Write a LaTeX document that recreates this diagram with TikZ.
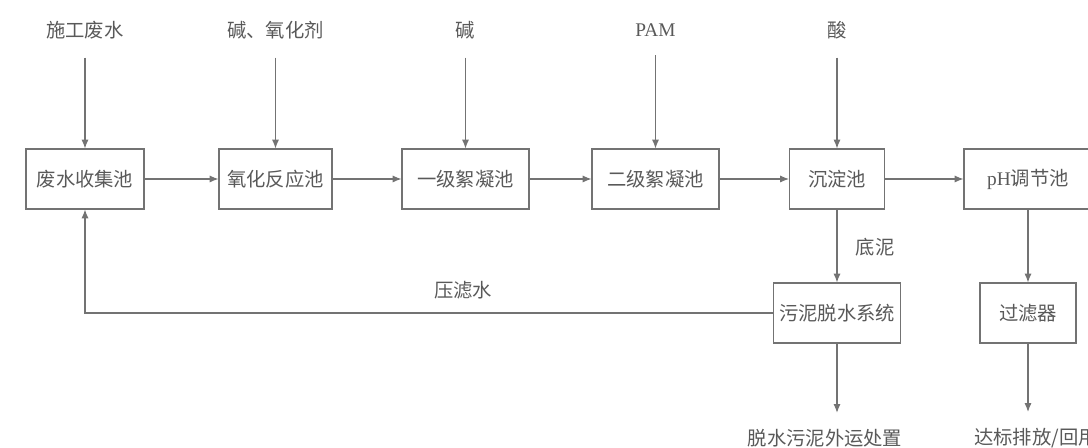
\documentclass[tikz,border=0pt]{standalone}
\usepackage{fontspec}
\setmainfont{Liberation Serif}
\newfontfamily\cjk{Noto Sans CJK SC}
\usetikzlibrary{arrows.meta}
\begin{document}
\begin{tikzpicture}[font=\cjk\fontsize{11}{13}\selectfont, text=black!65,
	pool/.style={draw=black!55, line width=0.6pt, minimum width=2.54cm, minimum height=1.2cm},
	flow/.style={draw=black!55, line width=0.6pt, -{Latex[length=5pt,width=4pt]}},
	feed/.style={flow, shorten <=0.25cm}]
	\useasboundingbox (0,0) rectangle (21.76,8.96);
	% treatment line
	\node[pool, minimum width=2.36cm] (collect) at (1.70,5.38) {废水收集池};
	\node[pool, minimum width=2.26cm] (oxid) at (5.51,5.38) {氧化反应池};
	\node[pool] (floc1) at (9.31,5.38) {一级絮凝池};
	\node[pool] (floc2) at (13.11,5.38) {二级絮凝池};
	\node[pool, minimum width=1.9cm] (settle) at (16.74,5.38) {沉淀池};
	\node[pool, minimum width=2.56cm] (ph) at (20.56,5.38) {{\rmfamily pH}调节池};
	\node[pool] (dewater) at (16.74,2.70) {污泥脱水系统};
	\node[pool, minimum width=1.92cm] (filter) at (20.56,2.70) {过滤器};
	% dosing
	\node (in1) at (1.70,8.36) {施工废水};
	\node (in2) at (5.51,8.36) {碱、氧化剂};
	\node (in3) at (9.31,8.36) {碱};
	\node (in4) at (13.11,8.36) {\rmfamily PAM};
	\node (in5) at (16.74,8.36) {酸};
	\draw[feed] (in1) -- (collect);
	\draw[feed] (in2) -- (oxid);
	\draw[feed] (in3) -- (floc1);
	\draw[feed] (in4) -- (floc2);
	\draw[feed] (in5) -- (settle);
	\draw[flow] (collect) -- (oxid);
	\draw[flow] (oxid) -- (floc1);
	\draw[flow] (floc1) -- (floc2);
	\draw[flow] (floc2) -- (settle);
	\draw[flow] (settle) -- (ph);
	% sludge and outlet
	\draw[flow] (settle) -- (dewater);
	\node (mud) at (17.50,4.02) {底泥};
	\draw[flow] (ph) -- (filter);
	\draw[flow] (dewater.west) -| (collect.south);
	\node (press) at (9.26,3.16) {压滤水};
	\node (out1) at (16.50,0.20) {脱水污泥外运处置};
	\node (out2) at (20.72,0.20) {达标排放/回用};
	\draw[flow, shorten >=0.2cm] (dewater) -- (dewater |- out1.north);
	\draw[flow, shorten >=0.2cm] (filter) -- (filter |- out2.north);
\end{tikzpicture}
\end{document}
